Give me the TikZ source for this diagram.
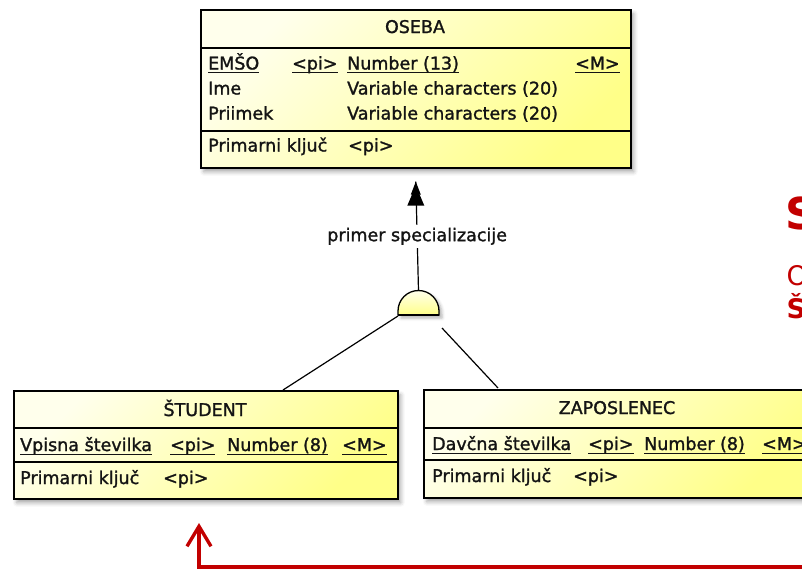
\documentclass[tikz,border=0pt]{standalone}
\usepackage{fontspec}
\setmainfont{DejaVu Sans}
\newfontfamily\entfont{DejaVu Sans}[FakeBold=1.4]
\usetikzlibrary{arrows.meta,shadows.blur}
\definecolor{entlight}{RGB}{255,255,236}
\definecolor{entdark}{RGB}{255,255,136}
\definecolor{linkred}{RGB}{194,0,0}
\definecolor{ink}{RGB}{20,20,20}
% underlined key attribute, rule at a fixed distance below the baseline
\newcommand\keyul[1]{\setbox0\hbox{#1}\rlap{\rule[-3.5pt]{\wd0}{1pt}}\box0}
\begin{document}
\begin{tikzpicture}[x=1pt,y=-1pt,
  entity/.style={draw=black, line width=1.6pt, top color=entlight, bottom color=entdark,
    shading angle=45, inner sep=0pt, anchor=north west,
    blur shadow={shadow xshift=3pt,shadow yshift=-4pt,shadow blur radius=4pt,shadow opacity=35}},
  gensym/.style={draw=black, line width=1.3pt, top color=entlight, bottom color=entdark,
    blur shadow={shadow xshift=3pt,shadow yshift=-3pt,shadow blur radius=3pt,shadow opacity=30}},
  field/.style={anchor=base west, inner sep=0pt, text=ink, font=\entfont\fontsize{17.5}{20}\selectfont},
  title/.style={field, anchor=base},
  rowsep/.style={line width=1.2pt},
  link/.style={line width=1.2pt},
  redlink/.style={draw=linkred, line width=3.4pt, -{Straight Barb[length=20pt,width=24pt]}},
  sidetext/.style={anchor=base west, inner sep=0pt, text=linkred},
]
\useasboundingbox (0,0) rectangle (802,570);

% entity boxes
\node[entity, minimum width=430pt, minimum height=158pt] (oseba) at (200,9) {};
\node[entity, minimum width=384pt, minimum height=108pt] (student) at (13,390) {};
\node[entity, minimum width=388pt, minimum height=108pt] (zaposlenec) at (423,389) {};

% compartment separators
\draw[rowsep] (200,48) -- (630,48);
\draw[rowsep] (200,131) -- (630,131);
\draw[rowsep] (13,428) -- (397,428);
\draw[rowsep] (13,462) -- (397,462);
\draw[rowsep] (423,428) -- (811,428);
\draw[rowsep] (423,460) -- (811,460);

% OSEBA
\node[title] (oseba-name) at (415,33) {OSEBA};
\node[field] (emso) at (208,69.5) {\keyul{EMŠO}};
\node[field] (emso-pi) at (292,69.5) {\keyul{<pi>}};
\node[field] (emso-type) at (347,69.5) {\keyul{Number (13)}};
\node[field] (emso-m) at (575,69.5) {\keyul{<M>}};
\node[field] (ime) at (208,94.5) {Ime};
\node[field] (ime-type) at (347,94.5) {Variable characters (20)};
\node[field] (priimek) at (208,119.5) {Priimek};
\node[field] (priimek-type) at (347,119.5) {Variable characters (20)};
\node[field] (oseba-key) at (208,151.5) {Primarni ključ};
\node[field] (oseba-key-pi) at (348,151.5) {<pi>};

% ŠTUDENT
\node[title] (student-name) at (205,416) {ŠTUDENT};
\node[field] (vpisna) at (20,451) {\keyul{Vpisna številka}};
\node[field] (vpisna-pi) at (170,451) {\keyul{<pi>}};
\node[field] (vpisna-type) at (227,451) {\keyul{Number (8)}};
\node[field] (vpisna-m) at (342,451) {\keyul{<M>}};
\node[field] (student-key) at (20,484) {Primarni ključ};
\node[field] (student-key-pi) at (163,484) {<pi>};

% ZAPOSLENEC
\node[title] (zaposlenec-name) at (617,414) {ZAPOSLENEC};
\node[field] (davcna) at (432,450) {\keyul{Davčna številka}};
\node[field] (davcna-pi) at (588,450) {\keyul{<pi>}};
\node[field] (davcna-type) at (644,450) {\keyul{Number (8)}};
\node[field] (davcna-m) at (762,450) {\keyul{<M>}};
\node[field] (zaposlenec-key) at (432,482) {Primarni ključ};
\node[field] (zaposlenec-key-pi) at (573,482) {<pi>};

% inheritance symbol: a dome on a short straight foot
\draw[gensym] (398,315) -- (398,311) arc[start angle=180, end angle=360, radius=20.5] -- (439,315) -- cycle;
\draw[line width=2.4pt] (398,315) -- (439,315);
\coordinate (gen-top) at (418.5,291);
\coordinate (gen-left) at (398,316);
\coordinate (gen-right) at (442,328);

% link to the parent, with its stacked arrowhead
\coordinate (isa-tip) at ([yshift=-13pt]oseba.south);
\draw[link] (gen-top) -- node[field, anchor=center, fill=white, inner sep=3pt] (isa-label) {primer specializacije} (isa-tip);
\fill[shift={(isa-tip)}] (0,0) -- (5,13) -- (-5,13) -- cycle;
\fill[shift={(isa-tip)}] (0,4) -- (8.5,24) -- (-8.5,24) -- cycle;

% links to the children
\coordinate (student-in) at (283,390);
\coordinate (zaposlenec-in) at (498,388);
\draw[link] (gen-left) -- (student-in);
\draw[link] (gen-right) -- (zaposlenec-in);

% red pointer
\coordinate (red-start) at (815,567);
\coordinate (red-bend) at (199,567);
\coordinate (red-tip) at (199,523);
\draw[redlink] (red-start) -- (red-bend) -- (red-tip);

% side text
\node[sidetext, font=\fontsize{44}{44}\selectfont\bfseries] (side-s) at (785,229) {S};
\node[sidetext, font=\fontsize{27}{27}\selectfont] (side-o) at (786.5,285) {O};
\node[sidetext, font=\fontsize{27}{27}\selectfont\bfseries] (side-sh) at (786.5,318) {Š};
\end{tikzpicture}
\end{document}
